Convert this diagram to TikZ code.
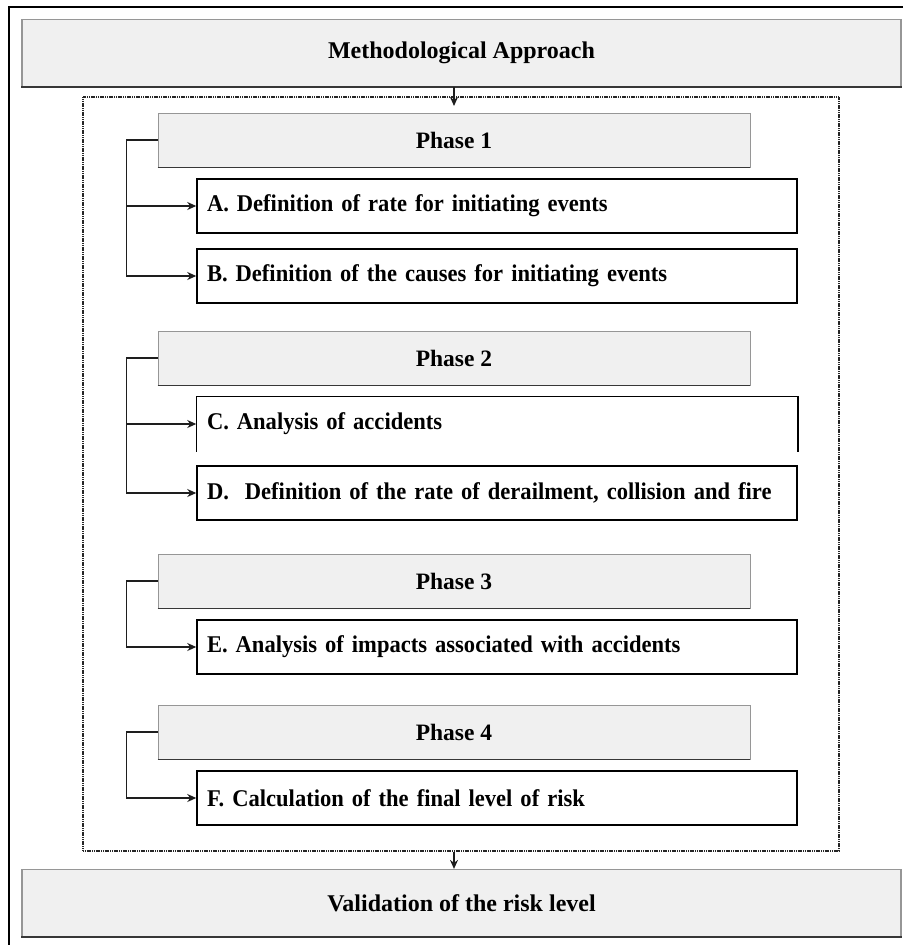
\documentclass[tikz,border=0pt]{standalone}
\usepackage{fontspec}
\setmainfont{Liberation Serif}
\newfontfamily\itemfont{Liberation Serif}[FakeStretch=0.94]
\newcommand\tightwords{\spaceskip=4.8pt plus 2pt minus 1pt\relax}
\usepackage{tikz}
\usetikzlibrary{arrows.meta, positioning, calc}
\definecolor{panelgray}{RGB}{240, 240, 240}
\definecolor{edgegray}{RGB}{150, 150, 150}
\definecolor{shadegray}{RGB}{55, 55, 55}
\definecolor{linkgray}{RGB}{30, 30, 30}

\begin{document}
\begin{tikzpicture}[x=1pt, y=-1pt,
    headbox/.style={fill=panelgray, draw=edgegray, line width=1.2pt, minimum width=879pt,
                    minimum height=67pt, inner sep=0pt, font=\fontsize{24}{28}\selectfont\bfseries},
    phasebox/.style={fill=panelgray, draw=edgegray, line width=0.8pt, minimum width=592pt,
                     minimum height=54pt, inner sep=0pt, font=\fontsize{23.5}{27}\selectfont\bfseries},
    itembox/.style={draw=black, line width=1.5pt, minimum height=54pt, inner xsep=10pt,
                    text width=580pt, align=left,
                    font=\itemfont\fontsize{24}{28}\selectfont\bfseries\tightwords},
    groundline/.style={draw=shadegray, line width=1.8pt},
    itemline/.style={draw=black, line width=1.5pt},
    link/.style={-{Stealth[length=9pt, width=8pt]}, draw=linkgray, line width=1.6pt}]
    \useasboundingbox (0,0) rectangle (903,945);
    \draw[line width=1.8pt] (903,7) -| (9,945);

    \node[headbox] (meth) at (461.5,53) {Methodological Approach};
    \node[draw=black!85, dash pattern=on 1.2pt off 0.6pt, line width=2.4pt, minimum width=756pt,
          minimum height=754pt, inner sep=0pt] (inner) at (461,474) {};
    \node[headbox] (valid) at (461.5,903) {Validation of the risk level};

    \node[phasebox] (p1) at (454,140) {Phase 1};
    \node[phasebox] (p2) at (454,358) {Phase 2};
    \node[phasebox] (p3) at (454,581) {Phase 3};
    \node[phasebox] (p4) at (454,732) {Phase 4};
    \foreach \n in {meth,valid,p1,p2,p3,p4}
        \draw[groundline] (\n.south west) -- (\n.south east);

    \node[itembox] (a) at (497,206) {A. Definition of rate for initiating events};
    \node[itembox] (b) at (497,276) {B. Definition of the causes for initiating events};
    \node[itembox, draw=none] (c) at (497,424) {C. Analysis of accidents};
    \draw[itemline] (c.south west) |- (c.north east) -- (c.south east);
    \node[itembox] (d) at (497,493) {D.~ Definition of the rate of derailment, collision and fire};
    \node[itembox] (e) at (497,647) {E. Analysis of impacts associated with accidents};
    \node[itembox] (f) at (497,798) {F. Calculation of the final level of risk};

    \coordinate (intop) at (454,106);
    \draw[link] (meth.south -| p1.north) -- (intop);
    \draw[link] (inner.south -| p1.south) -- (valid.north -| p1.south);

    \draw[link] (p1.west) -- ++(-31,0) |- (a.west);
    \draw[link] (p1.west) -- ++(-31,0) |- (b.west);
    \draw[link] (p2.west) -- ++(-31,0) |- (c.west);
    \draw[link] (p2.west) -- ++(-31,0) |- (d.west);
    \draw[link] (p3.west) -- ++(-31,0) |- (e.west);
    \draw[link] (p4.west) -- ++(-31,0) |- (f.west);
\end{tikzpicture}
\end{document}
